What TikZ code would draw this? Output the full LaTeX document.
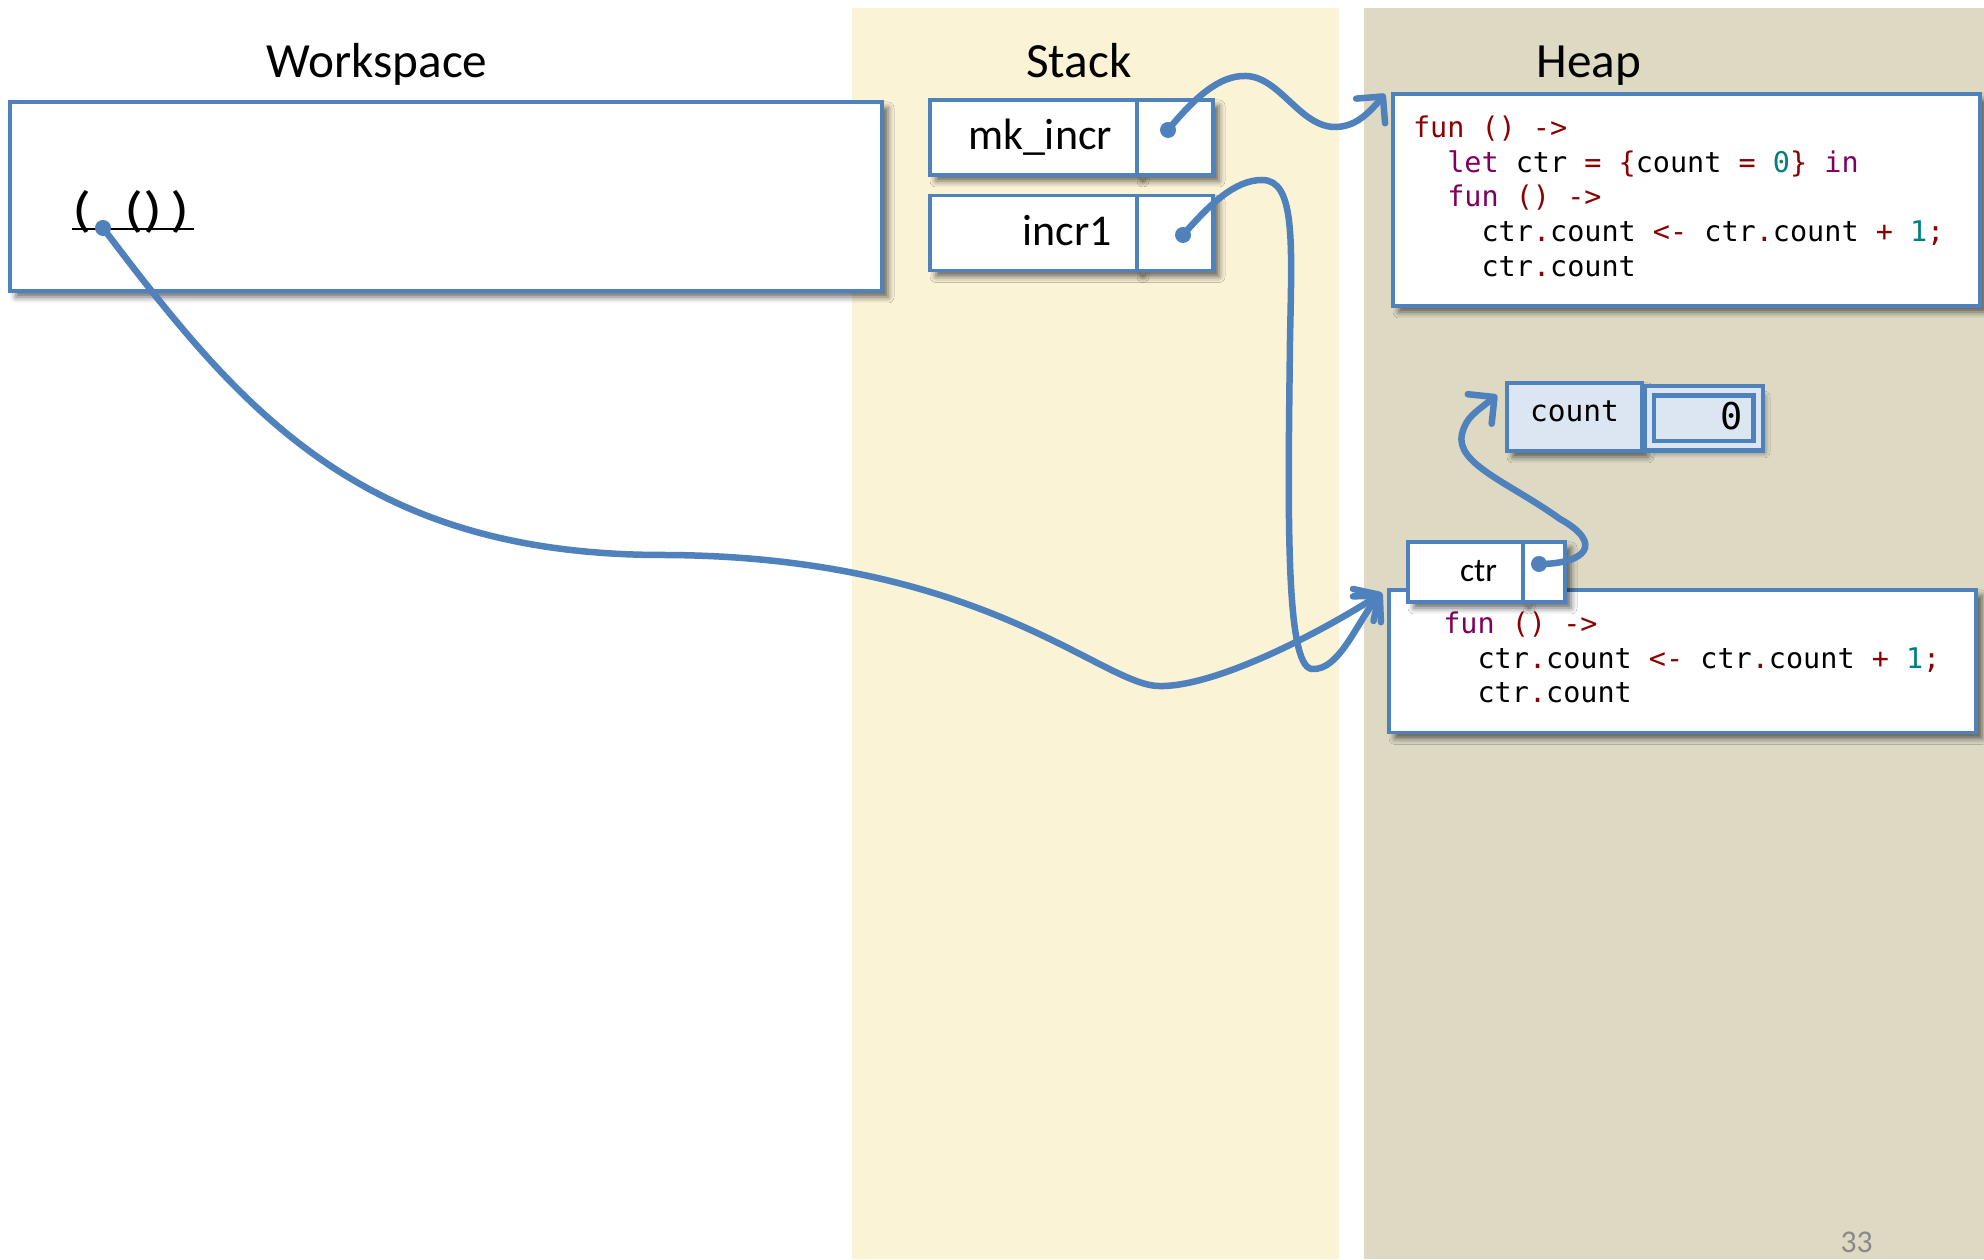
\documentclass[tikz,border=0pt]{standalone}
\usepackage{fontspec}
\setmainfont{Carlito}
\setmonofont{DejaVu Sans Mono}
\usepackage{graphicx}
\usetikzlibrary{positioning,arrows.meta,shadows.blur}
\definecolor{stackbg}{RGB}{251,243,214}
\definecolor{heapbg}{RGB}{221,217,195}
\definecolor{linkblue}{RGB}{79,129,189}
\definecolor{cellblue}{RGB}{220,230,242}
\definecolor{codered}{RGB}{139,0,0}
\definecolor{codepurple}{RGB}{128,0,96}
\definecolor{codeteal}{RGB}{0,128,128}
\definecolor{pagegray}{RGB}{137,137,137}
\newcommand{\cred}[1]{\textcolor{codered}{#1}}
\newcommand{\cpur}[1]{\textcolor{codepurple}{#1}}
\newcommand{\cnum}[1]{\textcolor{codeteal}{#1}}
\newcommand{\codefont}{\fontsize{8.1}{9.9}\selectfont\ttfamily}
\newcommand{\codesp}{\spaceskip=0.602em\xspaceskip=0.602em\relax}
\tikzset{
  cellbox/.style={draw=linkblue,line width=0.9pt,fill=white,outer sep=0pt,inner sep=0pt},
  boxshadow/.style={blur shadow={shadow xshift=0.06cm,shadow yshift=-0.06cm,
                    shadow blur radius=0.06cm,shadow opacity=60}},
  namecell/.style={cellbox,boxshadow,minimum width=2.07cm,minimum height=0.75cm,
                   text width=1.57cm,align=right,inner xsep=0.25cm,
                   text height=0.3cm,text depth=0.05cm,font=\fontsize{12.5}{14}\selectfont},
  valcell/.style={cellbox,boxshadow,minimum width=0.76cm,minimum height=0.75cm},
  codebox/.style={cellbox,boxshadow,anchor=north west,text width=5.47cm,align=left,
                  inner xsep=0.2cm,inner ysep=0.19cm,font=\codefont,
                  execute at begin node=\codesp},
  heading/.style={anchor=base,font=\fontsize{14}{16}\selectfont},
  pointer/.style={draw=linkblue,line width=0.065cm,line cap=round,
                  -{Straight Barb[length=1.9mm,width=3.8mm,round]}},
}

\begin{document}
\begin{tikzpicture}
  \useasboundingbox (0,0) rectangle (19.84,12.59);
  \fill[stackbg] (8.52,0) rectangle (13.39,12.51);
  \fill[heapbg] (13.64,0) rectangle (19.84,12.51);

  \node[heading] (wsT) at (3.77,11.81) {Workspace};
  \node[heading] (stT) at (10.79,11.81) {Stack};
  \node[heading] (hpT) at (15.89,11.81) {Heap};

  \node[cellbox,boxshadow,anchor=south west,minimum width=8.72cm,minimum height=1.89cm]
    (ws) at (0.10,9.68) {};
  \node[anchor=base west,inner sep=0pt,font=\fontsize{14}{15}\selectfont]
    (expr) at (0.72,10.32) {\scalebox{1.28}[1]{(\hspace{0.52em}()\hspace{0.13em})}};
  \draw[line width=0.7pt] ([yshift=-0.02cm]expr.base west)
    -- ([shift={(0.03,-0.02)}]expr.base east);

  \node[namecell] (mk) at (10.335,11.215) {mk\_incr};
  \node[valcell,right=0pt of mk] (mkv) {};
  \node[namecell] (inc) at (10.335,10.26) {incr1};
  \node[valcell,right=0pt of inc] (incv) {};

  \node[codebox] (codeA) at (13.93,11.65)
    {\strut\cred{fun () ->}\\
     \phantom{xx}\cpur{let} ctr \cred{=} \cred{\{}count \cred{=} \cnum{0}\cred{\}} \cpur{in}\\
     \phantom{xx}\cpur{fun} \cred{() ->}\\
     \phantom{xxxx}ctr\cred{.}count \cred{<-} ctr\cred{.}count \cred{+} \cnum{1}\cred{;}\\
     \phantom{xxxx}ctr\cred{.}count\strut};

  \node[cellbox,boxshadow,fill=cellblue,minimum width=1.35cm,minimum height=0.68cm,
        text height=0.15cm,text depth=0.05cm,font=\fontsize{8.4}{10}\selectfont\ttfamily]
    (cnt) at (15.745,8.42) {count};
  \node[cellbox,boxshadow,fill=cellblue,double=cellblue,double distance=0.05cm,
        line width=0.045cm,minimum width=1.09cm,minimum height=0.55cm,
        text width=0.79cm,align=right,inner xsep=0.15cm,
        text height=0.27cm,text depth=0.04cm,font=\fontsize{10.5}{12}\selectfont\ttfamily]
    (cntv) at (17.035,8.405) {0};

  \node[codebox] (codeB) at (13.89,6.69)
    {\strut\phantom{xx}\cpur{fun} \cred{() ->}\\
     \phantom{xxxx}ctr\cred{.}count \cred{<-} ctr\cred{.}count \cred{+} \cnum{1}\cred{;}\\
     \phantom{xxxx}ctr\cred{.}count\strut};

  \node[cellbox,boxshadow,minimum width=1.15cm,minimum height=0.6cm,
        text width=0.63cm,align=right,inner xsep=0.26cm,
        text height=0.24cm,text depth=0.04cm,font=\fontsize{9.5}{11}\selectfont]
    (ctr) at (14.655,6.87) {ctr};
  \node[cellbox,boxshadow,minimum width=0.42cm,minimum height=0.6cm,right=0pt of ctr] (ctrv) {};

  \coordinate (pmk) at ([shift={(-0.07,0.075)}]mkv.center);
  \coordinate (pinc) at ([shift={(0.08,-0.02)}]incv.center);
  \coordinate (pctr) at ([shift={(-0.05,0.08)}]ctrv.center);
  \coordinate (pws) at ([shift={(0.31,-0.01)}]expr.base west);

  \draw[pointer] (pmk) .. controls (11.95,11.62) and (12.2,11.84) .. (12.46,11.83)
    .. controls (12.8,11.82) and (13.0,11.32) .. (13.35,11.32)
    .. controls (13.55,11.32) and (13.68,11.45) .. ([xshift=-0.08cm]codeA.north west);
  \draw[pointer] (pinc) .. controls (12.1,10.55) and (12.35,10.79) .. (12.62,10.79)
    .. controls (12.95,10.79) and (12.92,10.2) .. (12.9,9.2)
    .. controls (12.88,7.5) and (12.85,5.92) .. (13.12,5.9)
    .. controls (13.4,5.88) and (13.58,6.4) .. ([shift={(-0.07,-0.03)}]codeB.north west);
  \draw[pointer] (pws) .. controls (2.4,8.5) and (3.6,7.05) .. (6.6,7.04)
    .. controls (9.8,7.04) and (11.0,5.75) .. (11.58,5.73)
    .. controls (12.1,5.71) and (13.1,6.2) .. ([shift={(-0.07,-0.03)}]codeB.north west);
  \draw[pointer] (pctr) .. controls (15.85,6.95) and (16.05,7.15) .. (15.6,7.4)
    .. controls (15.1,7.76) and (14.55,7.95) .. (14.62,8.25)
    .. controls (14.66,8.42) and (14.76,8.47) .. ([shift={(-0.1,-0.12)}]cnt.north west);

  \foreach \p in {pmk,pinc,pws,pctr}
    \fill[linkblue] (\p) circle (0.08);

  \node[anchor=base,text=pagegray,font=\fontsize{9}{10}\selectfont] (pgnum) at (18.565,0.07) {33};
\end{tikzpicture}
\end{document}
